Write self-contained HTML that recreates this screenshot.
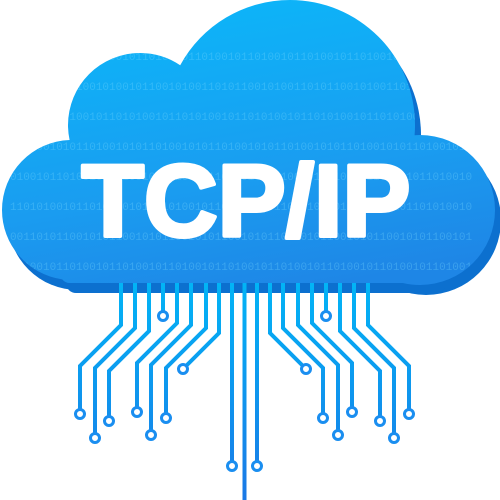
<!DOCTYPE html>
<html><head><style>html,body{margin:0;padding:0;background:#fff;width:500px;height:500px;overflow:hidden}</style></head>
<body>
<svg width="500" height="500" viewBox="0 0 500 500" xmlns="http://www.w3.org/2000/svg">
<defs>
<linearGradient id="face" gradientUnits="userSpaceOnUse" x1="250" y1="0" x2="300" y2="290">
<stop offset="0" stop-color="#0db4f8"/><stop offset="0.6" stop-color="#1a9cf0"/><stop offset="1" stop-color="#1e86e6"/>
</linearGradient>
<linearGradient id="ln" gradientUnits="userSpaceOnUse" x1="0" y1="270" x2="0" y2="500">
<stop offset="0" stop-color="#00b8f7"/><stop offset="1" stop-color="#1a78e6"/>
</linearGradient>
<clipPath id="cc">
<circle cx="72" cy="210" r="70"/>
<circle cx="140" cy="125" r="72"/>
<circle cx="290" cy="125" r="125"/>
<circle cx="420" cy="210" r="75"/>
<rect x="60" y="150" width="380" height="133" rx="10"/>
</clipPath>
</defs>
<g fill="#0c70cf" transform="translate(6,10)">
<circle cx="72" cy="210" r="70"/>
<circle cx="140" cy="125" r="72"/>
<circle cx="290" cy="125" r="125"/>
<circle cx="420" cy="210" r="75"/>
<rect x="60" y="150" width="380" height="133" rx="10"/>
</g>
<g fill="none" stroke="url(#ln)" stroke-width="4">
<path d="M121 270V325L80 366V410"/>
<path d="M135 270V328L95 368V434"/>
<path d="M149 270V331L109 371V417"/>
<path d="M163 270V312"/>
<path d="M177 270V323L137 363V408"/>
<path d="M191 270V325L151 365V431"/>
<path d="M206 270V328L166 368V414"/>
<path d="M219 270V333L186 366"/>
<path d="M232 270V462"/>
<path d="M244.5 270V500"/>
<path d="M257 270V462"/>
<path d="M368 270V325L409 366V410"/>
<path d="M354 270V328L394 368V434"/>
<path d="M340 270V331L380 371V417"/>
<path d="M326 270V312"/>
<path d="M312 270V323L352 363V408"/>
<path d="M298 270V325L338 365V431"/>
<path d="M283 270V328L323 368V414"/>
<path d="M270 270V333L303 366"/>
</g>
<g fill="#fff" stroke="#1a8ef0" stroke-width="3">
<circle cx="80" cy="414" r="4.5"/><circle cx="95" cy="438" r="4.5"/><circle cx="109" cy="421" r="4.5"/>
<circle cx="163" cy="316" r="4.5"/><circle cx="137" cy="412" r="4.5"/><circle cx="151" cy="435" r="4.5"/>
<circle cx="166" cy="418" r="4.5"/><circle cx="183" cy="369" r="4.5"/><circle cx="232" cy="466" r="4.5"/>
<circle cx="257" cy="466" r="4.5"/>
<circle cx="409" cy="414" r="4.5"/><circle cx="394" cy="438" r="4.5"/><circle cx="380" cy="421" r="4.5"/>
<circle cx="326" cy="316" r="4.5"/><circle cx="352" cy="412" r="4.5"/><circle cx="338" cy="435" r="4.5"/>
<circle cx="323" cy="418" r="4.5"/><circle cx="306" cy="369" r="4.5"/>
</g>
<rect x="0" y="0" width="500" height="300" fill="url(#face)" clip-path="url(#cc)"/>
<g clip-path="url(#cc)" fill="#7fdcff" opacity="0.3" font-family="Liberation Mono, monospace" font-size="11">
<text x="10" y="60">0101100101011010010110100101101001011010010110100101101001011010010110</text>
<text x="10" y="90">1100100110100101001011001010011010110010100110101100101001101011001010</text>
<text x="10" y="120">0010110101001011010100101101010010110101001011010100101101010010110101</text>
<text x="10" y="150">1011001010110100101011010010101101001010110100101011010010101101001010</text>
<text x="10" y="180">0100101101001011010010110100101101001011010010110100101101001011010010</text>
<text x="10" y="210">1101010010110101001011010100101101010010110101001011010100101101010010</text>
<text x="10" y="240">0011010110010101100101011001010110010101100101011001010110010101100101</text>
<text x="10" y="270">1010010110100101101001011010010110100101101001011010010110100101101001</text>
</g>
<text x="246" y="236" text-anchor="middle" fill="#fff" stroke="#fff" stroke-width="4" stroke-linejoin="round" font-family="Liberation Sans, sans-serif" font-weight="bold" font-size="102">TCP/IP</text>
</svg>
</body></html>
